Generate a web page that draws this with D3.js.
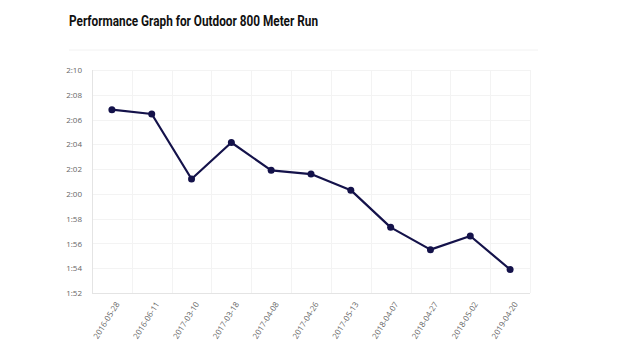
<!DOCTYPE html>
<html><head><meta charset="utf-8">
<script src="https://cdn.jsdelivr.net/npm/d3@7"></script>
<style>body{margin:0;background:#fff;}svg{display:block;}</style>
</head><body>
<script>
const dates = ["2016-05-28","2016-06-11","2017-03-10","2017-03-18","2017-04-08","2017-04-26","2017-05-13","2018-04-07","2018-04-27","2018-05-02","2019-04-20"];
const timesSec = [126.8,126.45,121.2,124.15,121.9,121.6,120.3,117.3,115.5,116.6,113.9];
const yTickLabels = ["1:52","1:54","1:56","1:58","2:00","2:02","2:04","2:06","2:08","2:10"];
const yTickValues = [112,114,116,118,120,122,124,126,128,130];
const title = "Performance Graph for Outdoor 800 Meter Run";

const W=620,H=349;
const m={left:92,right:90,top:70,bottom:56};
const svg=d3.select("body").append("svg").attr("width",W).attr("height",H);

svg.append("text").attr("x",69).attr("y",26).text(title)
  .attr("font-family","Roboto").attr("font-weight","bold").attr("font-size",14.5)
  .attr("fill","#111").attr("textLength",249).attr("lengthAdjust","spacingAndGlyphs");
svg.append("line").attr("x1",69).attr("x2",538).attr("y1",50).attr("y2",50)
  .attr("stroke","#f2f2f2").attr("stroke-width",1);

const x=d3.scaleBand().domain(dates).range([m.left,W-m.right]);
const y=d3.scaleLinear().domain([112,130]).range([H-m.bottom,m.top]);

const g=svg.append("g");
// horizontal grid
g.selectAll(".hg").data(yTickValues).join("line")
  .attr("x1",m.left).attr("x2",W-m.right)
  .attr("y1",d=>Math.round(y(d))+0.5).attr("y2",d=>Math.round(y(d))+0.5)
  .attr("stroke","#f3f3f3");
// vertical grid at band boundaries
const bounds=dates.map(d=>x(d)).concat([x(dates[dates.length-1])+x.bandwidth()]);
g.selectAll(".vg").data(bounds).join("line")
  .attr("x1",d=>Math.round(d)+0.5).attr("x2",d=>Math.round(d)+0.5)
  .attr("y1",m.top).attr("y2",H-m.bottom)
  .attr("stroke","#f3f3f3");
// axes lines
g.append("line").attr("x1",m.left+0.5).attr("x2",m.left+0.5).attr("y1",m.top).attr("y2",H-m.bottom).attr("stroke","#e4e4e4");
g.append("line").attr("x1",m.left).attr("x2",W-m.right).attr("y1",Math.round(y(112))+0.5).attr("y2",Math.round(y(112))+0.5).attr("stroke","#e4e4e4");

// y axis labels
const yAxis=d3.axisLeft(y).tickValues(yTickValues).tickFormat((d,i)=>yTickLabels[i]).tickSize(0).tickPadding(10);
const ya=svg.append("g").attr("transform",`translate(${m.left},0)`).call(yAxis);
ya.select(".domain").remove();
ya.selectAll("text").attr("font-family","Open Sans").attr("font-size",8).attr("fill","#666");

// x axis labels
const xAxis=d3.axisBottom(x).tickSize(0).tickPadding(0);
const xa=svg.append("g").attr("transform",`translate(0,${H-m.bottom})`).call(xAxis);
xa.select(".domain").remove();
xa.selectAll("text").attr("font-family","Open Sans").attr("font-size",8).attr("fill","#666")
  .attr("text-anchor","end").attr("dy",0).attr("y",0)
  .attr("transform","translate(8,11) rotate(-58)");

// line
const line=d3.line().x((d,i)=>x(dates[i])+x.bandwidth()/2).y(d=>y(d));
svg.append("path").datum(timesSec).attr("d",line).attr("fill","none")
  .attr("stroke","#14124a").attr("stroke-width",2.2).attr("stroke-linejoin","round");
svg.selectAll(".pt").data(timesSec).join("circle")
  .attr("cx",(d,i)=>x(dates[i])+x.bandwidth()/2).attr("cy",d=>y(d)).attr("r",3.5)
  .attr("fill","#14124a");
</script>
</body></html>
